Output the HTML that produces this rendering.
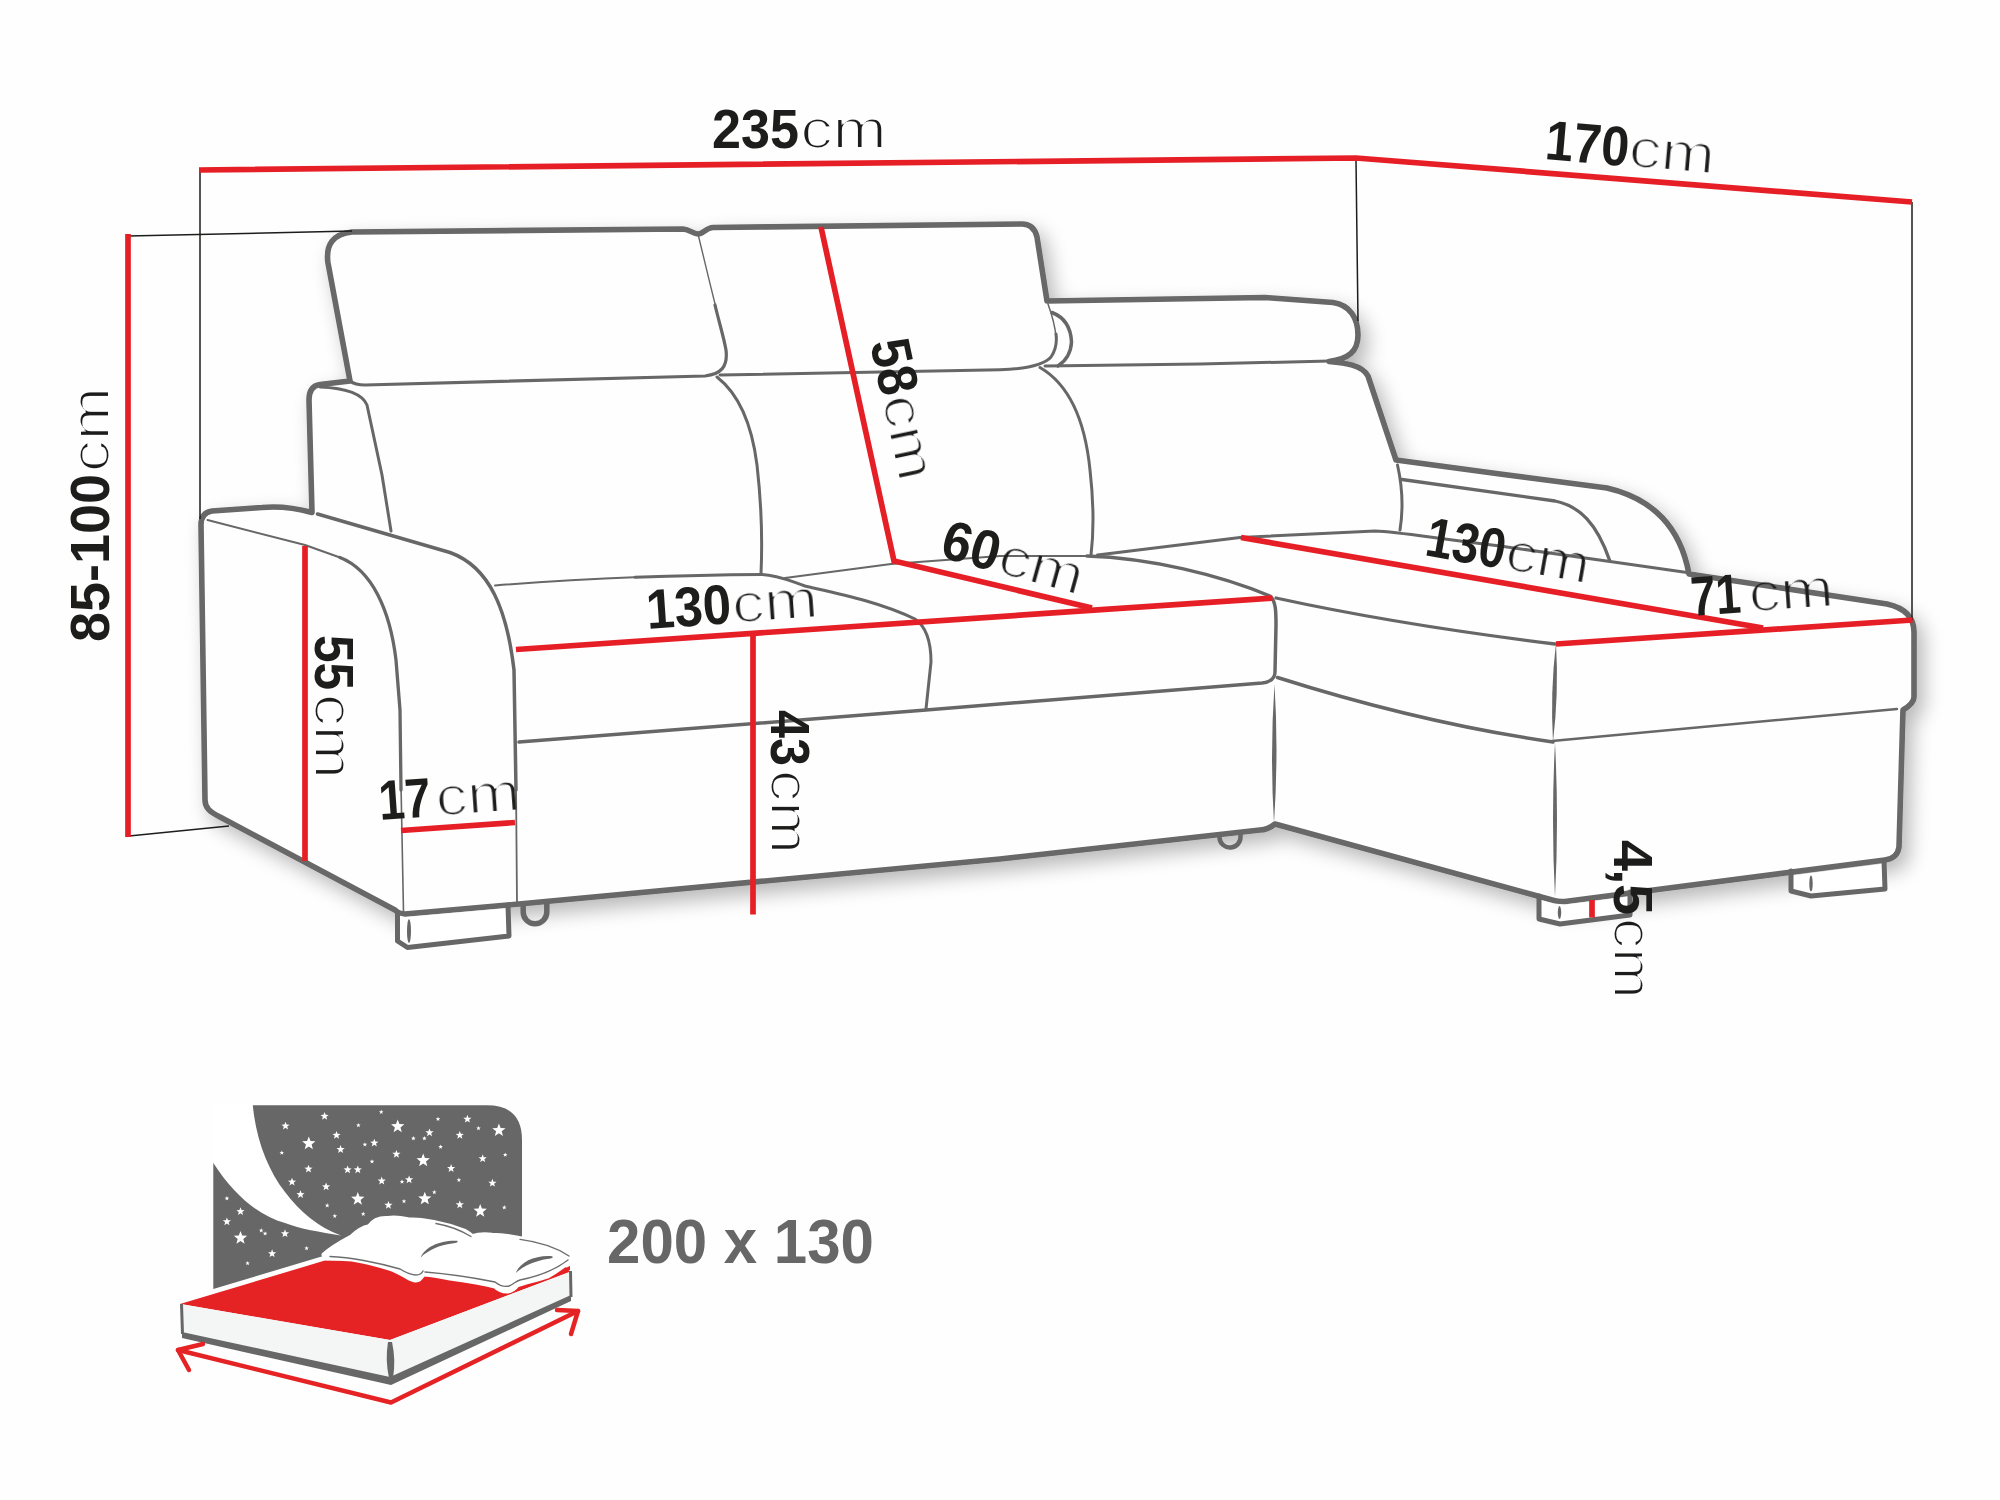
<!DOCTYPE html>
<html><head><meta charset="utf-8"><title>Sofa dimensions</title>
<style>
html,body{margin:0;padding:0;background:#fefefe;}
body{width:2000px;height:1500px;overflow:hidden;}
svg{display:block;}
text{font-family:"Liberation Sans",sans-serif;}
.cm{filter:url(#er);}
</style></head>
<body>
<svg width="2000" height="1500" viewBox="0 0 2000 1500">
<defs>
<filter id="er" x="-5%" y="-5%" width="110%" height="110%"><feMorphology operator="erode" radius="1"/></filter>
<path id="st" d="M0,-1 L0.247,-0.34 L0.951,-0.309 L0.399,0.13 L0.588,0.809 L0,0.42 L-0.588,0.809 L-0.399,0.13 L-0.951,-0.309 L-0.247,-0.34 Z"/>
<filter id="sh" x="-10%" y="-10%" width="130%" height="130%">
<feGaussianBlur in="SourceAlpha" stdDeviation="10"/>
<feOffset dx="7" dy="9" result="b"/>
<feComponentTransfer><feFuncA type="linear" slope="0.28"/></feComponentTransfer>
<feMerge><feMergeNode/><feMergeNode in="SourceGraphic"/></feMerge>
</filter>
</defs>
<rect width="2000" height="1500" fill="#fefefe"/>

<!-- SOFA OUTLINE -->
<g id="sofa" fill="none" stroke="#676767" stroke-linejoin="round" stroke-linecap="round">
<!-- outer silhouette -->
<path filter="url(#sh)" fill="#fefefe" stroke-width="5.6" d="M312,512.5 L309,400 Q309,386 320,384.5 L350,381 L328,263 Q324,235 352,232 L683,229 C690,229.3 693,234 698,234 C703,234 706,227.8 713,227.5 L1022,224 Q1034,224 1037,237 L1047,301 L1265,297.5 L1333,302.5 C1350,305 1358,318 1358,335 C1358,352 1348,359 1329,361.5 C1345,363 1362,365 1368,376 L1396,460 L1500,474 L1607,488 C1650,498 1680,525 1689,574 L1887,604 C1905,608 1914,618 1914,632 L1914,697 C1914,703 1908,707 1903,710 L1899,847 C1898,855 1892,859 1885,860 L1565,901.5 C1560,902 1557,901.5 1554,900.5 L1275,824 C1270,828 1265,830 1260,830 L1000,859 L519,904 L405,914 C400,914 397,912 395,910 L220,817 C210,812 205,808 205,800 L201,525 C201,516 205,512 212,511 L262,507.5 C275,506.3 290,506.5 312,512.5 Z"/>
<!-- legs -->
<path stroke="none" fill="#fff" d="M397.5,915 L405,917 L508,908 L509,936 L407.5,947.5 L397.5,941 Z"/>
<path stroke-width="5" d="M397.5,913 L397.5,941 L407.5,947.5 L509,936 L508,905"/>
<ellipse fill="#676767" stroke="none" cx="409" cy="931" rx="2" ry="12"/>
<path stroke="none" fill="#fff" d="M1539,899.5 L1554,903.6 L1565,904.5 L1630,896.3 L1630,915 L1560,924 L1539,919 Z"/>
<path stroke-width="5" d="M1539,896 L1539,919 L1560,924 L1630,915 L1630,892"/>
<ellipse fill="#676767" stroke="none" cx="1559.5" cy="912.5" rx="1.7" ry="6.5"/>
<path stroke="none" fill="#fff" d="M1791,875.5 L1791,891 L1811,896 L1885,889 L1884,863.5 Z"/>
<path stroke-width="5" d="M1791,871 L1791,891 L1811,896 L1885,889 L1884,861"/>
<ellipse fill="#676767" stroke="none" cx="1811" cy="883.5" rx="1.7" ry="8"/>
<!-- casters -->
<path stroke-width="5.5" d="M523.2,905.5 L523.2,912 A11.8,11.8 0 0 0 546.8,912 L546.8,903.5"/>
<path stroke-width="4.5" d="M1219.5,835 L1219.5,838 A10.5,10.5 0 0 0 1240.5,836 L1240.5,833"/>
<!-- headrest / back cushion medium lines -->
<path stroke-width="1.4" d="M698.5,236 C703,255 711,288 717,312"/>
<path stroke-width="3.2" d="M715,305 C719,322 724,338 726,350 C728,367 721,374 705,376 L365,385 Q355,385 350,381"/>
<path stroke-width="3" d="M720,375 L1000,369.8 C1028,368.8 1044,365 1051,357 C1056,350 1057,342 1056,334"/>
<path stroke-width="1.5" d="M1056,337 C1055,325 1052,315 1048,304"/>
<path stroke-width="3.5" d="M1052,312.5 C1066,318 1071,330 1071.5,342 C1071,352 1067,360 1058,366"/>
<path stroke-width="3" d="M1045,366 L1200,364 L1330,361"/>
<!-- back cushion separators -->
<path stroke-width="3" d="M320,387 C345,388 362,393 367,405 L382,475 L391,531"/>
<path stroke-width="3" d="M717,377 C740,395 752,425 757,465 C761,500 763,530 761,574"/>
<path stroke-width="3" d="M1040,367.5 C1070,385 1085,420 1090,470 C1094,505 1094,530 1091,555"/>
<path stroke-width="3" d="M1397.5,465 C1402,485 1404,505 1400,530"/>
<path stroke-width="3.3" d="M1402,479.5 L1555,501 C1580,506 1597,524 1609.5,560"/>
<!-- left arm -->
<path stroke-width="2" d="M207.5,520 L305,545 L340,557.5"/>
<path stroke-width="3.3" d="M340,557.5 C372,570 390,610 396,660 L400,710 L401,790"/>
<path stroke-width="1.6" d="M401,785 L403.5,912"/>
<path stroke-width="3.5" d="M317.5,514 L450,552.5 C490,567 507,610 514,670 L516,790"/>
<path stroke-width="1.8" d="M516,785 L517,903"/>
<!-- seats -->
<path stroke-width="2" d="M495,585.5 Q560,580 640,577"/>
<path stroke-width="3" d="M635,577.3 Q700,575 762,574.5 C778,575 790,581 805,586 C840,594 880,602 915,619 C928,628 931,645 931,662 L926,709"/>
<path stroke-width="2" d="M785,578 L891,564 L1000,556 L1087,556"/>
<path stroke-width="3.5" d="M1087,556 C1150,558 1220,575 1270,596 C1276,601 1276,612 1276,625 L1275,672 C1275,679 1270,682 1262,683 L926,710 L519,742"/>
<path stroke-width="3" d="M1097.5,555 L1240,537.5 L1375,531 C1400,532 1425,537 1500,546 L1610,561.5 L1687,572.5"/>
<path stroke-width="3.3" d="M1276,598 Q1400,625 1555,644"/>
<path fill="#676767" stroke="none" d="M1556,643 Q1558.9,692.5 1553,742 Q1550.1,692.5 1556,643 Z"/>
<path stroke-width="3.5" d="M1277.5,677.5 C1380,710 1470,730 1553,742"/>
<path stroke-width="2.5" d="M1552,741 L1897,709"/>
<path fill="#676767" stroke="none" d="M1274.5,684 Q1278.7,753.5 1274,823 Q1269.8,753.5 1274.5,684 Z"/>
<path fill="#676767" stroke="none" d="M1555,743 Q1559.0,820.0 1555,897 Q1551.0,820.0 1555,743 Z"/>

</g>

<!-- DIMENSION LINES -->
<g fill="none" stroke="#1d1d1b" stroke-width="1.5">
<path d="M200,170 L200,519"/>
<path d="M1356,160 L1358,321"/>
<path d="M1912,202 L1912,620"/>
<path d="M128,236 L352,231"/>
<path d="M129,836 L229,826"/>
</g>
<g fill="none" stroke="#e61f26" stroke-width="5.7" stroke-linejoin="miter">
<path d="M199,170 L1356,158 L1912,202"/>
<path d="M128,234 L128,837"/>
<path d="M821,227 L894,561 L1092,608"/>
<path d="M516,649.5 L1272.5,598"/>
<path d="M753,636 L753,914.5"/>
<path d="M305,546 L305,861"/>
<path d="M401,830.5 L515,822.5"/>
<path d="M1241,537.5 L1763,628"/>
<path d="M1556,644 L1912.5,620"/>
<path d="M1592,900 L1592,917.5"/>
</g>


<!-- BED ICON -->
<g id="bed">
<path fill="#676767" d="M252.6,1105.2 L487,1105.2 Q522,1105.2 522,1140 L522,1245 L330,1254 L213.3,1289 L213.3,1162.6 Z"/>
<path fill="#fff" d="M252.6,1104 C256,1140 268,1170 285,1192 C300,1212 318,1227 341,1235.5 C320,1232 300,1229 285,1223 C260,1216 235,1197 213,1162.6 L213,1104 Z"/>
<g fill="#fff">
<use href="#st" transform="translate(308.8,1143.5) scale(7)"/>
<use href="#st" transform="translate(397.7,1126.5) scale(7)"/>
<use href="#st" transform="translate(498.9,1130.4) scale(7)"/>
<use href="#st" transform="translate(423.2,1160.5) scale(7)"/>
<use href="#st" transform="translate(357.8,1199) scale(7)"/>
<use href="#st" transform="translate(424.8,1198.7) scale(7)"/>
<use href="#st" transform="translate(480.2,1211) scale(7)"/>
<use href="#st" transform="translate(240.5,1238) scale(7)"/>
<use href="#st" transform="translate(324.6,1116.3) scale(4.3)"/>
<use href="#st" transform="translate(285.5,1126) scale(4.3)"/>
<use href="#st" transform="translate(336.5,1135.3) scale(4.3)"/>
<use href="#st" transform="translate(340.6,1149.4) scale(4.3)"/>
<use href="#st" transform="translate(374.3,1143) scale(4.3)"/>
<use href="#st" transform="translate(429.5,1132.7) scale(4.3)"/>
<use href="#st" transform="translate(459.8,1135.3) scale(4.3)"/>
<use href="#st" transform="translate(467.4,1119.1) scale(4.3)"/>
<use href="#st" transform="translate(396.4,1154.2) scale(4.3)"/>
<use href="#st" transform="translate(482.7,1158.6) scale(4.3)"/>
<use href="#st" transform="translate(308.5,1169) scale(4.3)"/>
<use href="#st" transform="translate(347.6,1169.8) scale(4.3)"/>
<use href="#st" transform="translate(357.8,1169.8) scale(4.3)"/>
<use href="#st" transform="translate(451.1,1168.4) scale(4.3)"/>
<use href="#st" transform="translate(292,1182) scale(4.3)"/>
<use href="#st" transform="translate(326.1,1186.8) scale(4.3)"/>
<use href="#st" transform="translate(381.7,1180.9) scale(4.3)"/>
<use href="#st" transform="translate(409.1,1179.7) scale(4.3)"/>
<use href="#st" transform="translate(492.4,1183.1) scale(4.3)"/>
<use href="#st" transform="translate(300.5,1194.5) scale(4.3)"/>
<use href="#st" transform="translate(388.4,1205.2) scale(4.3)"/>
<use href="#st" transform="translate(459.8,1204.7) scale(4.3)"/>
<use href="#st" transform="translate(240.5,1211.5) scale(4.3)"/>
<use href="#st" transform="translate(226.9,1221.7) scale(4.3)"/>
<use href="#st" transform="translate(285,1233.6) scale(4.3)"/>
<use href="#st" transform="translate(272.1,1253.6) scale(4.3)"/>
<use href="#st" transform="translate(381.2,1112) scale(2.4)"/>
<use href="#st" transform="translate(358.4,1125.3) scale(2.4)"/>
<use href="#st" transform="translate(438,1119.1) scale(2.4)"/>
<use href="#st" transform="translate(478.5,1128.3) scale(2.4)"/>
<use href="#st" transform="translate(413.4,1138.4) scale(2.4)"/>
<use href="#st" transform="translate(424.4,1138.4) scale(2.4)"/>
<use href="#st" transform="translate(364.9,1144.6) scale(2.4)"/>
<use href="#st" transform="translate(440.6,1146.9) scale(2.4)"/>
<use href="#st" transform="translate(281.8,1152.8) scale(2.4)"/>
<use href="#st" transform="translate(505.2,1154.8) scale(2.4)"/>
<use href="#st" transform="translate(372,1161.6) scale(2.4)"/>
<use href="#st" transform="translate(402,1181.7) scale(2.4)"/>
<use href="#st" transform="translate(458.9,1180) scale(2.4)"/>
<use href="#st" transform="translate(434.3,1192.2) scale(2.4)"/>
<use href="#st" transform="translate(226.9,1198.4) scale(2.4)"/>
<use href="#st" transform="translate(327.2,1205.5) scale(2.4)"/>
<use href="#st" transform="translate(404,1201.3) scale(2.4)"/>
<use href="#st" transform="translate(504.3,1207.5) scale(2.4)"/>
<use href="#st" transform="translate(363.2,1214) scale(2.4)"/>
<use href="#st" transform="translate(334.8,1216) scale(2.4)"/>
<use href="#st" transform="translate(261.2,1230.5) scale(2.4)"/>
<use href="#st" transform="translate(265.1,1233.6) scale(2.4)"/>
<use href="#st" transform="translate(306.6,1248.3) scale(2.4)"/>
<use href="#st" transform="translate(247.6,1263.3) scale(2.4)"/>
</g>
<!-- mattress -->
<path fill="#e52324" d="M180,1304 L325.7,1260.3 L560,1262 L570.3,1271.7 L390,1340 Z"/>
<path fill="#f4f5f5" d="M181,1304 L390,1340 L390,1379 L182,1334 Z"/>
<path fill="#f4f5f5" d="M390,1340 L570.3,1271.7 L571,1297 L390,1379 Z"/>
<path fill="none" stroke="#676767" stroke-width="3" d="M181.5,1304 L182.5,1334 M570.5,1271 L571,1297"/>
<path fill="#676767" d="M182,1332 L390,1377 L571,1295 L571,1301 L391,1385 L182,1338 Z"/>
<path fill="#676767" d="M388,1342 Q385,1360 389,1378 L393,1378 Q396,1360 392,1342 Z"/>
<path fill="#e52324" d="M558,1271 L570,1266 L570,1270 Z"/>
<!-- pillows -->
<path id="pil" fill="#fff" stroke="#fff" stroke-width="5" stroke-linejoin="round" d="M324,1254.8 C330,1249 340,1243 352,1236.6 C358,1231 363,1228 369,1226.8 C373,1221 380,1218 388,1218.5 C395,1217.5 402,1218.5 408,1219.8 C425,1220 445,1224 464,1231 C468,1233 470,1235 472.4,1236.6 C480,1234 486,1234.5 492,1235.2 C510,1236 530,1240 548,1246.4 C558,1249 566,1252 572,1256 L571,1260 C563,1266 555,1272 548,1275.8 C535,1280 525,1282 517,1285 C514,1289 511,1291 507,1291 C502,1291 498,1289 495,1286 C480,1282 465,1280 450,1278 C440,1276 430,1274 423,1274 C421,1278 419,1280 416,1280 C412,1280 409,1278 406,1276 C400,1273 396,1270 392,1269 C380,1265 365,1261 352,1259 C340,1258 332,1258 326,1258 Z"/>
<g fill="none" stroke="#6d6d6d" stroke-width="1.4" stroke-linecap="round">
<path d="M330,1256.5 C350,1257 380,1263 400,1269 C405,1272 410,1275 416,1275 C420,1275 422,1273 423,1271"/>
<path d="M425,1272 C450,1274 475,1278 495,1282 C500,1286 505,1287 509,1286 C514,1284 516,1281 520,1280 C540,1276 555,1270 568,1260"/>
<path d="M436,1223.5 C450,1226 462,1231 471,1236.5"/>
<path d="M520,1239.4 C540,1242 557,1248 569,1256"/>
</g>
<path fill="#676767" d="M420.6,1257.6 C425,1247 440,1240 457,1240.8 C459,1242 457,1243 452,1243.5 C440,1245 428,1250 420.6,1257.6 Z"/>
<path fill="#676767" d="M515.8,1273 C520,1262 535,1255 552,1256.2 C554,1257.5 552,1258.5 547,1259 C535,1261 523,1266 515.8,1273 Z"/>
<!-- arrows -->
<g fill="none" stroke="#e52324" stroke-width="4.5" stroke-linecap="round" stroke-linejoin="round">
<path d="M178,1350 L391,1402.5 L578,1311"/>
<path d="M203,1344 L178,1350 L189,1370"/>
<path d="M557,1310 L578,1311 L571,1334"/>
</g>
</g>
<text x="607" y="1263" fill="#676767" font-size="62.5" font-weight="bold" textLength="267" lengthAdjust="spacingAndGlyphs">200 x 130</text>

<!-- LABELS -->
<g fill="#1d1d1b" font-size="56">
<g transform="translate(712,148)"><text font-weight="bold" textLength="87" lengthAdjust="spacingAndGlyphs">235</text><text class="cm" x="88.5" textLength="86.0" lengthAdjust="spacingAndGlyphs">cm</text></g>
<g transform="translate(1544,159) rotate(5)"><text font-weight="bold" textLength="84" lengthAdjust="spacingAndGlyphs">170</text><text class="cm" x="84" textLength="86.0" lengthAdjust="spacingAndGlyphs">cm</text></g>
<g transform="translate(109,642) rotate(-90)"><text font-weight="bold" textLength="168" lengthAdjust="spacingAndGlyphs">85-100</text><text class="cm" x="170" textLength="84.9" lengthAdjust="spacingAndGlyphs">cm</text></g>
<g transform="translate(870,343) rotate(78)"><text font-weight="bold" textLength="56" lengthAdjust="spacingAndGlyphs">58</text><text class="cm" x="57" textLength="86.0" lengthAdjust="spacingAndGlyphs">cm</text></g>
<g transform="translate(938.5,556.5) rotate(15.5)"><text font-weight="bold" textLength="58" lengthAdjust="spacingAndGlyphs">60</text><text class="cm" x="59" textLength="86.0" lengthAdjust="spacingAndGlyphs">cm</text></g>
<g transform="translate(647.5,629) rotate(-4)"><text font-weight="bold" textLength="85" lengthAdjust="spacingAndGlyphs">130</text><text class="cm" x="86" textLength="86.0" lengthAdjust="spacingAndGlyphs">cm</text></g>
<g transform="translate(315,635) rotate(90)"><text font-weight="bold" textLength="55" lengthAdjust="spacingAndGlyphs">55</text><text class="cm" x="59" textLength="84.9" lengthAdjust="spacingAndGlyphs">cm</text></g>
<g transform="translate(380,820) rotate(-4)"><text font-weight="bold" textLength="52" lengthAdjust="spacingAndGlyphs">17</text><text class="cm" x="57" textLength="84.9" lengthAdjust="spacingAndGlyphs">cm</text></g>
<g transform="translate(771,710) rotate(90)"><text font-weight="bold" textLength="56" lengthAdjust="spacingAndGlyphs">43</text><text class="cm" x="60" textLength="83.8" lengthAdjust="spacingAndGlyphs">cm</text></g>
<g transform="translate(1423.5,555) rotate(10)"><text font-weight="bold" textLength="80" lengthAdjust="spacingAndGlyphs">130</text><text class="cm" x="81" textLength="84.9" lengthAdjust="spacingAndGlyphs">cm</text></g>
<g transform="translate(1692,616) rotate(-4)"><text font-weight="bold" textLength="50" lengthAdjust="spacingAndGlyphs">71</text><text class="cm" x="58" textLength="84.9" lengthAdjust="spacingAndGlyphs">cm</text></g>
<g transform="translate(1614,841) rotate(90)"><text font-weight="bold" x="-1 28 43">4,5</text><text class="cm" x="77" textLength="80.6" lengthAdjust="spacingAndGlyphs">cm</text></g>
</g>
</svg>
</body></html>
